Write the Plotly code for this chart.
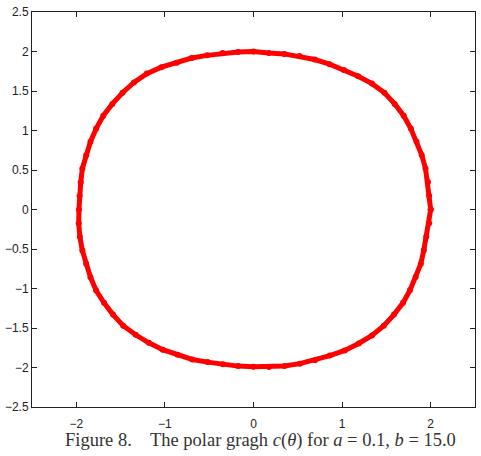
import numpy as np
import plotly.graph_objects as go

# polar angle (degrees) and radius
theta_deg = list(range(0, 360, 5))
radius = [
    2.00, 1.99, 2.00, 2.01, 2.02, 2.03, 2.05, 2.07, 2.08, 2.09,   # 0..45
    2.08, 2.06, 2.04, 2.03, 2.02, 2.01, 2.00, 1.99, 2.00,         # 50..90
    2.00, 2.01, 2.02, 2.04, 2.05, 2.08, 2.10, 2.10, 2.09,         # 95..135
    2.08, 2.07, 2.05, 2.03, 2.01, 2.00, 1.98, 1.97, 1.97,         # 140..180
    1.98, 1.99, 2.00, 2.01, 2.03, 2.05, 2.06, 2.07, 2.08,         # 185..225
    2.07, 2.06, 2.05, 2.03, 2.02, 2.00, 1.99, 1.99, 1.99,         # 230..270
    2.00, 2.01, 2.02, 2.03, 2.04, 2.06, 2.07, 2.08, 2.08,         # 275..315
    2.07, 2.06, 2.04, 2.02, 2.01, 1.99, 1.98, 1.99,               # 320..355
]

x_ticks = [-2, -1, 0, 1, 2]
y_ticks = [-2.5, -2, -1.5, -1, -0.5, 0, 0.5, 1, 1.5, 2, 2.5]
y_tick_labels = ["\u22122.5", "\u22122", "\u22121.5", "\u22121", "\u22120.5", "0", "0.5", "1", "1.5", "2", "2.5"]
x_tick_labels = ["\u22122", "\u22121", "0", "1", "2"]
caption = "Figure 8.    The polar gragh <i>c</i>(<i>θ</i>) for <i>a</i> = 0.1, <i>b</i> = 15.0"

th = np.deg2rad(np.array(theta_deg + [theta_deg[0]]))
rr = np.array(radius + [radius[0]])
xs = rr * np.cos(th)
ys = rr * np.sin(th)

fig = go.Figure()
fig.add_trace(go.Scatter(
    x=xs, y=ys, mode="lines+markers",
    line=dict(color="#ff0000", width=5),
    marker=dict(color="#ff0000", size=6),
    hoverinfo="skip", showlegend=False,
))

axis_common = dict(
    showgrid=False, zeroline=False, showline=True, linecolor="#222222", linewidth=1,
    mirror="ticks", ticks="inside", ticklen=5, tickcolor="#222222", tickwidth=1,
    tickfont=dict(family="Liberation Sans, Arial, sans-serif", size=12, color="#222222"),
)
fig.update_xaxes(range=[-2.5, 2.5], tickvals=x_ticks, ticktext=x_tick_labels,
                 ticklabelstandoff=6, **axis_common)
fig.update_yaxes(range=[-2.5, 2.5], tickvals=y_ticks, ticktext=y_tick_labels, **axis_common)

fig.add_annotation(
    text=caption, xref="paper", yref="paper", x=0.515, y=-0.085,
    xanchor="center", yanchor="middle", showarrow=False,
    font=dict(family="Liberation Serif, DejaVu Serif, serif", size=18.5, color="#333333"),
)

fig.update_layout(
    width=481, height=456,
    margin=dict(l=31, r=5, t=9, b=49),
    paper_bgcolor="white", plot_bgcolor="white",
)

fig.write_html("out.html")
